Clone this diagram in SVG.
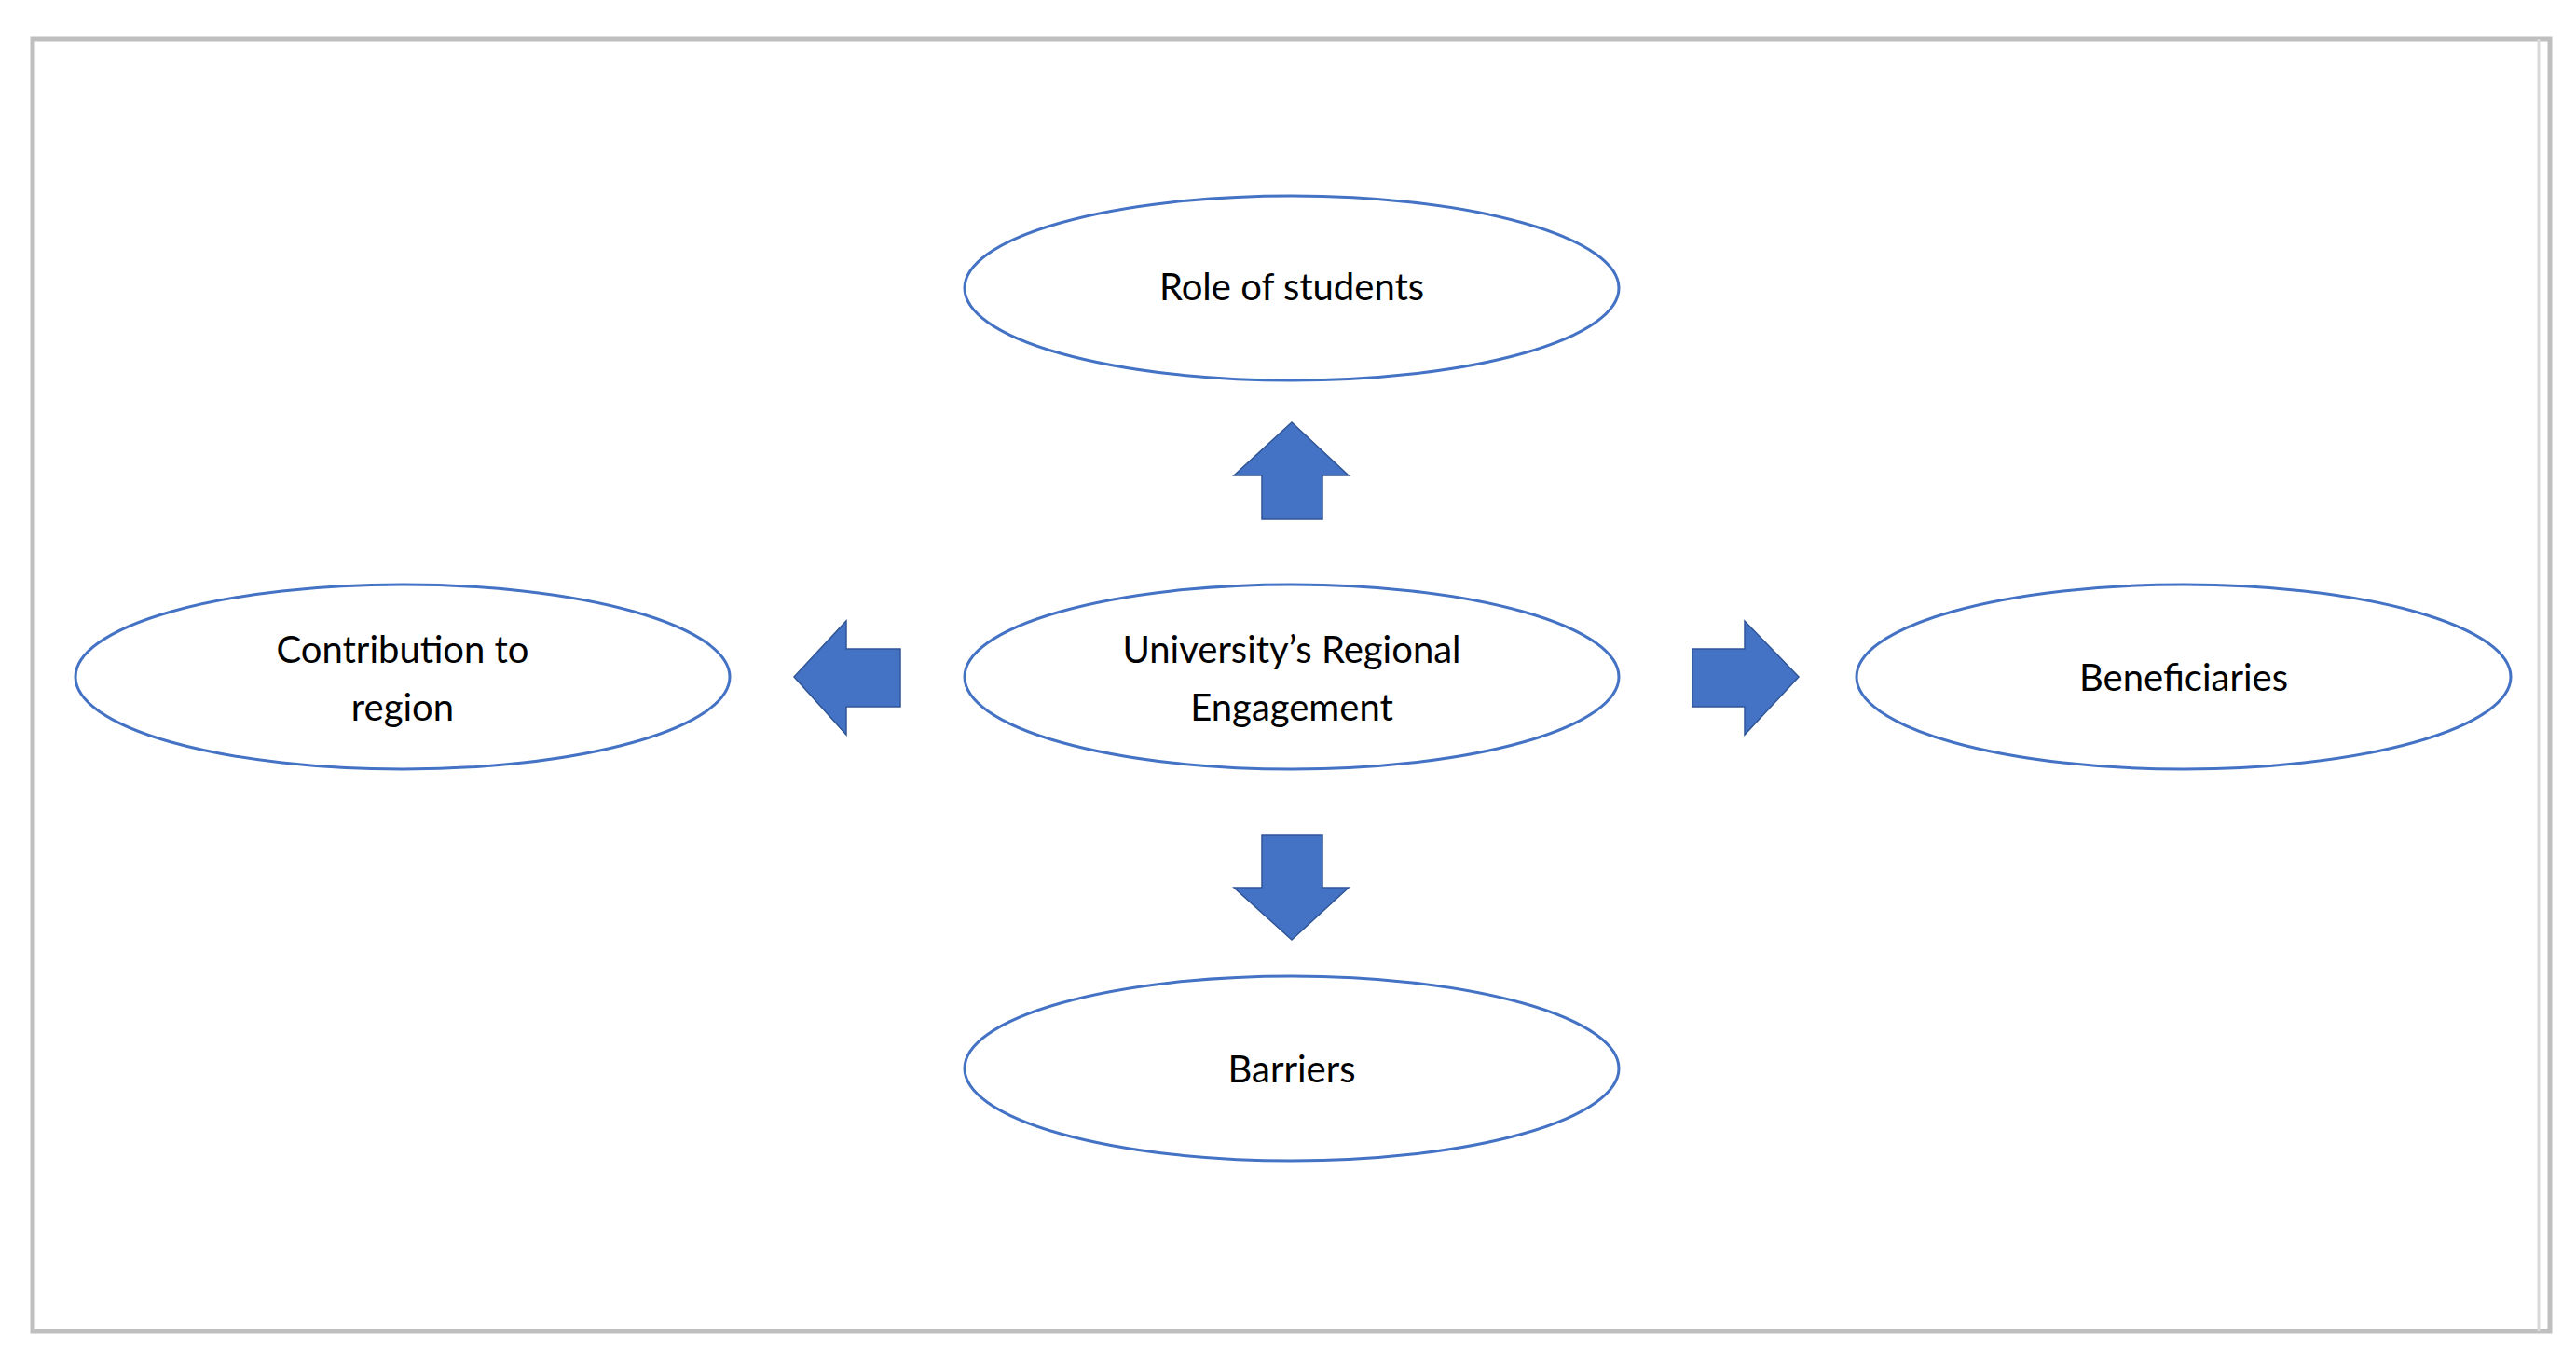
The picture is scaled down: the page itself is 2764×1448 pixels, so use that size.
<svg xmlns="http://www.w3.org/2000/svg" width="2764" height="1448" viewBox="0 0 2764 1448">
<style>
.n{fill:#fff;stroke:#4472c4;stroke-width:3}
.t{font-family:Lato,"Open Sans",sans-serif;font-size:40px;fill:#000;text-anchor:middle;dominant-baseline:central}
.a{fill:#4472c4;stroke:#2f5597;stroke-width:1.5}
</style>
<rect x="0" y="0" width="2764" height="1448" fill="#fff"/>
<rect x="35" y="42" width="2701" height="1386" fill="none" stroke="#bfbfbf" stroke-width="5"/>
<line x1="2724" y1="42" x2="2724" y2="1428" stroke="#d9d9d9" stroke-width="3"/>
<g id="center"><ellipse class="n" cx="1386" cy="726" rx="351" ry="99"/><text class="t" x="1386" y="696">University’s Regional</text><text class="t" x="1386" y="758">Engagement</text></g>
<g id="top"><ellipse class="n" cx="1386" cy="309" rx="351" ry="99"/><text class="t" x="1386" y="307">Role of students</text></g>
<g id="bottom"><ellipse class="n" cx="1386" cy="1146" rx="351" ry="99"/><text class="t" x="1386" y="1146">Barriers</text></g>
<g id="left"><ellipse class="n" cx="432" cy="726" rx="351" ry="99"/><text class="t" x="432" y="696">Contribution to</text><text class="t" x="432" y="758">region</text></g>
<g id="right"><ellipse class="n" cx="2343" cy="726" rx="351" ry="99"/><text class="t" x="2343" y="726">Beneficiaries</text></g>
<g id="connectors">
<polygon class="a" points="1386,453 1447,510 1419,510 1419,557 1354,557 1354,510 1324,510"/>
<polygon class="a" points="1386,1008 1447,952 1419,952 1419,896 1354,896 1354,952 1324,952"/>
<polygon class="a" points="852,726 908,666 908,696 966,696 966,758 908,758 908,788"/>
<polygon class="a" points="1930,726 1872,666 1872,696 1816,696 1816,758 1872,758 1872,788"/>
</g>
</svg>
